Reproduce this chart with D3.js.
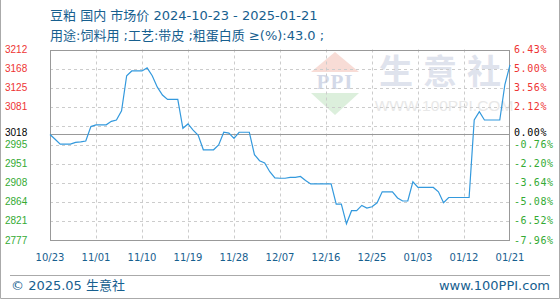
<!DOCTYPE html>
<html>
<head>
<meta charset="utf-8">
<script src="https://cdn.jsdelivr.net/npm/d3@7"></script>
<style>
  body { margin: 0; background: #fff; }
  svg { display: block; }
</style>
</head>
<body>
<div id="container"></div>
<script>
/* chart data */
const startDate = "2024-10-23"
const basePrice = 3018
const prices = [
  3018, 3007, 2996, 2996, 2996, 3000, 3001, 3003, 3036, 3040,
  3040, 3040, 3048, 3051, 3072, 3152, 3163, 3163, 3163, 3170,
  3152, 3126, 3108, 3098, 3098, 3098, 3032, 3042, 3028, 3016,
  2983, 2983, 2983, 2994, 3023, 3021, 3009, 3023, 3023, 3023,
  2972, 2958, 2953, 2933, 2919, 2918, 2918, 2920, 2920, 2922,
  2913, 2905, 2905, 2905, 2905, 2905, 2859, 2859, 2814, 2844,
  2844, 2856, 2850, 2853, 2862, 2887, 2887, 2887, 2873, 2866,
  2866, 2910, 2897, 2897, 2897, 2897, 2887, 2862, 2874, 2874,
  2874, 2874, 2874, 3051, 3070, 3051, 3051, 3051, 3051, 3132,
  3177
]
const priceTicks = [3212, 3168, 3125, 3081, 3018, 2995, 2951, 2908, 2864, 2821, 2777]
const pctTicks = ["6.43%", "5.00%", "3.56%", "2.12%", "0.00%", "-0.76%", "-2.20%", "-3.64%", "-5.08%", "-6.52%", "-7.96%"]
const gridValues = [3212, 3168.5, 3125, 3081.5, 3038, 2994.5, 2951, 2907.5, 2864, 2820.5, 2777]
const dateTicks = ["10/23", "11/01", "11/10", "11/19", "11/28", "12/07", "12/16", "12/25", "01/03", "01/12", "01/21"]
const titleText = "豆粕 国内 市场价 2024-10-23 - 2025-01-21"
const subText = "用途:饲料用 ;工艺:带皮 ;粗蛋白质 ≥(%):43.0 ;"

/* layout */
const W = 560
const H = 300
const plotLeft = 50, plotRight = 510, plotTop = 49.5, plotBottom = 240
const TEXTBLUE = "#17608f"
const LINEBLUE = "#3399dd"
const RED = "#ee3333"
const GREEN = "#33aa33"

const parseDay = d3.timeParse("%Y-%m-%d")
const day0 = parseDay(startDate)
const dates = prices.map((p, i) => d3.timeDay.offset(day0, i))
const tickDates = dateTicks.map((t, i) => d3.timeDay.offset(day0, i * 9))

const svg = d3.select("#container").append("svg")
  .attr("width", W).attr("height", H)

const x = d3.scaleTime().domain([dates[0], dates[dates.length - 1]]).range([plotLeft, plotRight])
const y = d3.scaleLinear().domain([2777, 3212]).range([plotBottom, plotTop])

/* outer frame: left, right, bottom */
svg.append("path")
  .attr("d", `M0.5,0 V${H - 1.5} H${W - 0.5} V0`)
  .attr("fill", "none").attr("stroke", "#aaa")

/* title */
svg.append("text").attr("x", 50).attr("y", 20)
  .attr("font-family", "DejaVu Sans, 'Noto Sans CJK SC', sans-serif").attr("font-size", 13)
  .attr("fill", TEXTBLUE).text(titleText)
svg.append("text").attr("x", 50).attr("y", 40)
  .attr("font-family", "DejaVu Sans, 'Noto Sans CJK SC', sans-serif").attr("font-size", 13)
  .attr("fill", TEXTBLUE).text(subText)

/* watermark */
const wm = svg.append("g")
wm.append("path").attr("d", "M335,52 L359,72 L311,72 Z").attr("fill", "#f8dcd6")
wm.append("path").attr("d", "M311,93 L359,93 L335,115 Z").attr("fill", "#dcefdc")
wm.append("text").attr("x", 335).attr("y", 89).attr("text-anchor", "middle")
  .attr("font-family", "Liberation Serif, serif").attr("font-size", 21).attr("font-weight", "bold")
  .attr("fill", "#d3d9e8").attr("letter-spacing", 1).text("PPI")
wm.append("text").attr("x", 445).attr("y", 84).attr("text-anchor", "middle")
  .attr("font-family", "'Noto Sans CJK SC', sans-serif").attr("font-size", 34).attr("font-weight", "bold")
  .attr("fill", "#dfe3ed").attr("letter-spacing", 10).text("生意社")
wm.append("text").attr("x", 444).attr("y", 111).attr("text-anchor", "middle")
  .attr("font-family", "Liberation Sans, sans-serif").attr("font-size", 15.5)
  .attr("fill", "#e8e8e8").text("WWW.100PPI.COM")

/* grid */
const grid = svg.append("g").attr("stroke", "#cccccc").attr("stroke-dasharray", "3,3")
grid.selectAll("line.h").data(gridValues.slice(1, -1)).enter().append("line")
  .attr("x1", plotLeft).attr("x2", plotRight)
  .attr("y1", d => Math.round(y(d)) + 0.5).attr("y2", d => Math.round(y(d)) + 0.5)
grid.selectAll("line.v").data(tickDates.slice(1, -1)).enter().append("line")
  .attr("y1", plotTop).attr("y2", plotBottom)
  .attr("x1", d => Math.round(x(d)) + 0.5).attr("x2", d => Math.round(x(d)) + 0.5)

/* frame and base line */
svg.append("rect").attr("x", plotLeft + 0.5).attr("y", Math.round(plotTop) + 0.5)
  .attr("width", plotRight - plotLeft - 1).attr("height", plotBottom - Math.round(plotTop))
  .attr("fill", "none").attr("stroke", "#999")
svg.append("line").attr("x1", plotLeft).attr("x2", plotRight)
  .attr("y1", Math.round(y(basePrice)) + 0.5).attr("y2", Math.round(y(basePrice)) + 0.5)
  .attr("stroke", "#999")

/* price line */
const line = d3.line().x((d, i) => x(dates[i])).y(d => y(d))
svg.append("path").datum(prices)
  .attr("d", line).attr("fill", "none")
  .attr("stroke", LINEBLUE).attr("stroke-width", 1.2)

/* left price labels; the base label sits a little higher */
const tickColor = v => v > basePrice ? RED : (v < basePrice ? GREEN : "#000")
const labelY = v => y(v) + (v === basePrice ? 1.5 : 3.5)
svg.selectAll("text.py").data(priceTicks).enter().append("text")
  .attr("x", 5).attr("y", labelY)
  .attr("font-family", "Liberation Sans, Arial, sans-serif").attr("font-size", 10)
  .attr("fill", tickColor).text(d => d)

/* right percent labels */
svg.selectAll("text.pp").data(pctTicks).enter().append("text")
  .attr("x", 514).attr("y", (d, i) => labelY(priceTicks[i]))
  .attr("font-family", "DejaVu Sans Mono, monospace").attr("font-size", 10)
  .attr("letter-spacing", 0.6)
  .attr("fill", (d, i) => tickColor(priceTicks[i])).text(d => d)

/* x axis labels */
svg.selectAll("text.xd").data(dateTicks).enter().append("text")
  .attr("x", (d, i) => x(tickDates[i])).attr("y", 260.5)
  .attr("text-anchor", "middle")
  .attr("font-family", "DejaVu Sans, sans-serif").attr("font-size", 10)
  .attr("fill", TEXTBLUE).text(d => d)

/* footer */
svg.append("line").attr("x1", 10).attr("x2", 550).attr("y1", 275.5).attr("y2", 275.5)
  .attr("stroke", "#aaa")
svg.append("text").attr("x", 11).attr("y", 290)
  .attr("font-family", "DejaVu Sans, 'Noto Sans CJK SC', sans-serif").attr("font-size", 13)
  .attr("fill", TEXTBLUE).text("© 2025.05 生意社")
svg.append("text").attr("x", 550).attr("y", 290).attr("text-anchor", "end")
  .attr("font-family", "DejaVu Sans, sans-serif").attr("font-size", 13)
  .attr("fill", TEXTBLUE).text("www.100PPI.com")
</script>
</body>
</html>
